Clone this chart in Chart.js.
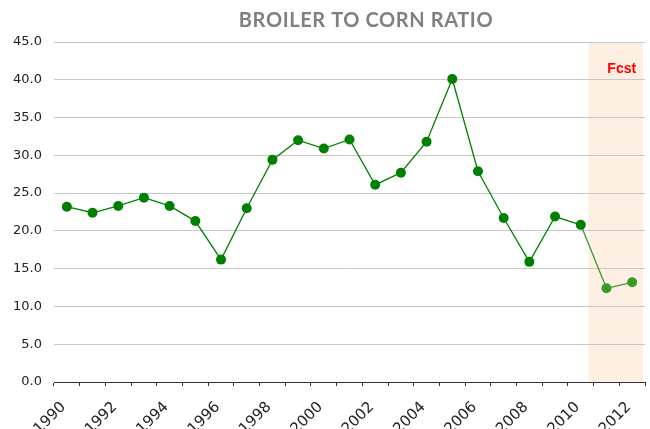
<!DOCTYPE html>
<html>
<head>
<meta charset="utf-8">
<script src="https://cdn.jsdelivr.net/npm/chart.js@4/dist/chart.umd.min.js"></script>
<style>
  html, body { margin: 0; padding: 0; background: #fff; }
  #wrap { width: 650px; height: 429px; }
</style>
</head>
<body>
<div id="wrap"><canvas id="myChart"></canvas></div>
<script>
var years = ["1990","1991","1992","1993","1994","1995","1996","1997","1998","1999","2000",
             "2001","2002","2003","2004","2005","2006","2007","2008","2009","2010","2011","2012"];
var ratio = [23.2, 22.4, 23.3, 24.4, 23.3, 21.3, 16.2, 23.0, 29.4, 32.0, 30.9,
             32.1, 26.1, 27.7, 31.8, 40.1, 27.9, 21.7, 15.9, 21.9, 20.8, 12.4, 13.2];
var forecastFrom = "2011";
var yTicks = [0, 5, 10, 15, 20, 25, 30, 35, 40, 45];

var fcstIdx = years.indexOf(forecastFrom);
var green = "#008000";
var fcstGreen = "#3c9a2a";

// peach band behind the forecast years, plus the title and "Fcst" tag
function bandLeft(chart) {
  var x = chart.scales.x;
  var step = x.getPixelForValue(1) - x.getPixelForValue(0);
  return x.getPixelForValue(fcstIdx) - step * 0.7;
}

var extras = {
  id: 'extras',
  beforeDraw: function(chart) {
    var c = chart.ctx, a = chart.chartArea;
    var left = bandLeft(chart);
    c.save();
    c.fillStyle = "#fdefe2";
    c.fillRect(left, a.top, a.right - 2 - left, a.bottom - a.top);
    c.restore();
  },
  afterDraw: function(chart) {
    var c = chart.ctx, a = chart.chartArea;
    var left = bandLeft(chart);
    c.save();
    c.fillStyle = "#ff0000";
    c.font = "bold 14px 'Liberation Sans', Arial, sans-serif";
    c.textAlign = "center";
    c.textBaseline = "middle";
    c.fillText("Fcst", (left + a.right) / 2 + 5, 69);
    c.fillStyle = "#808080";
    c.font = "bold 20px Lato, sans-serif";
    c.letterSpacing = "0.6px";
    c.textBaseline = "alphabetic";
    c.fillText("BROILER TO CORN RATIO", 366, 27);
    c.restore();
  }
};

var ctx = document.getElementById("myChart");

var myChart = new Chart(ctx, {
  type: 'line',
  data: {
    labels: years,
    datasets: [{
      data: ratio,
      borderColor: green,
      borderWidth: 1.3,
      pointRadius: 5,
      pointHoverRadius: 5,
      pointBorderWidth: 0,
      pointBackgroundColor: ratio.map(function(v, i) { return i >= fcstIdx ? fcstGreen : green; }),
      segment: {
        borderColor: function(s) { return s.p1DataIndex >= fcstIdx ? fcstGreen : green; }
      },
      tension: 0,
      fill: false
    }]
  },
  options: {
    responsive: true,
    maintainAspectRatio: false,
    animation: false,
    layout: { padding: { top: 42, right: 3, left: 0, bottom: 0 } },
    plugins: {
      legend: { display: false },
      title: { display: false },
      tooltip: { enabled: false }
    },
    scales: {
      x: {
        offset: true,
        afterFit: function(axis) {
          axis.height = 47;
          axis.paddingLeft = 0;
          axis.paddingRight = 0;
        },
        grid: {
          offset: true,
          drawOnChartArea: false,
          drawTicks: true,
          tickLength: 4,
          color: "#333"
        },
        border: { display: true, color: "#333", width: 1 },
        ticks: {
          autoSkip: false,
          maxRotation: 45,
          minRotation: 45,
          padding: 9,
          color: "#222",
          font: { family: "'DejaVu Sans', sans-serif", size: 15 },
          callback: function(v, i) { return i % 2 === 0 ? years[i] + ' ' : ''; }
        }
      },
      y: {
        min: yTicks[0],
        max: yTicks[yTicks.length - 1],
        afterBuildTicks: function(axis) {
          axis.ticks = yTicks.map(function(v) { return { value: v }; });
        },
        afterFit: function(axis) { axis.width = 54; },
        border: { display: false },
        grid: { color: "#c8c8c8", drawTicks: false, lineWidth: 1 },
        ticks: {
          padding: 12,
          color: "#222",
          font: { family: "'DejaVu Sans', sans-serif", size: 13 },
          callback: function(v) { return v.toFixed(1); }
        }
      }
    }
  },
  plugins: [extras]
});
</script>
</body>
</html>
